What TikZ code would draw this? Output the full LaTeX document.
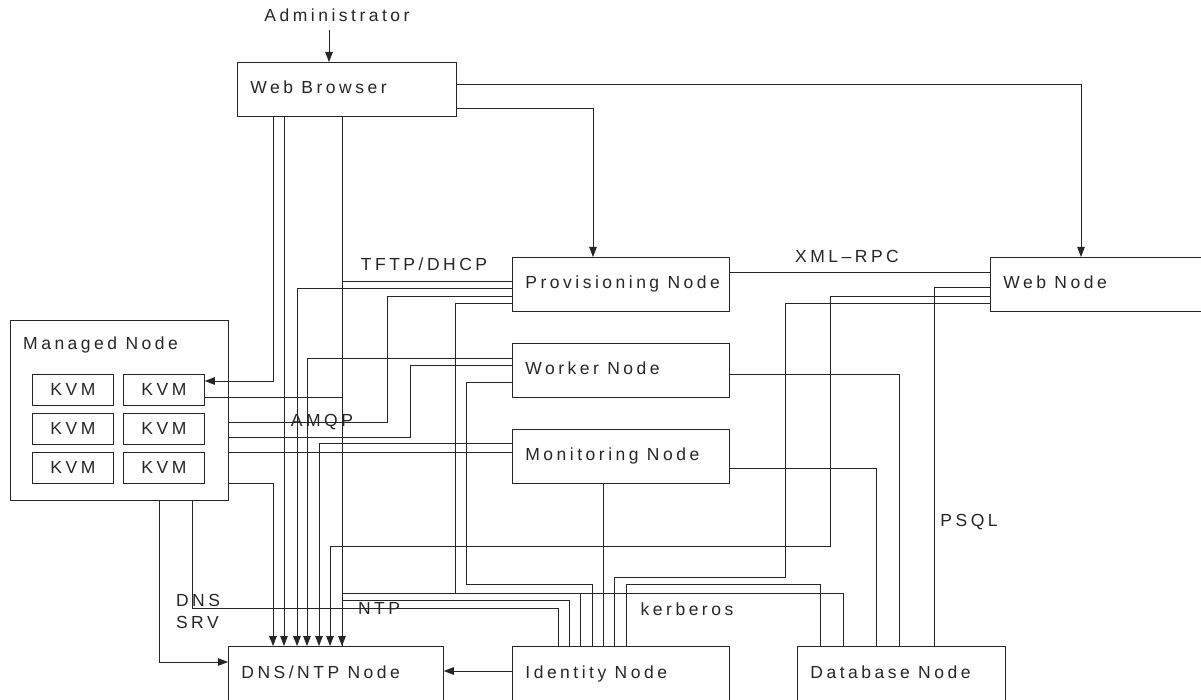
\documentclass[tikz,border=0pt]{standalone}
\usepackage{fontspec}
\newfontfamily\lblfont{Liberation Sans}[LetterSpace=20]
\usetikzlibrary{arrows.meta}
\newcommand\inbox[2]{\makebox[#1][l]{#2}}
\tikzset{
  base/.style={font=\lblfont\fontsize{17.5}{22}\selectfont, text=black!85},
  box/.style={base, draw=black!85, line width=0.8pt, anchor=north west,
              inner xsep=13pt, inner ysep=0pt, minimum height=54pt, text height=12pt, text depth=4pt},
  lowbox/.style={box, minimum height=60pt, text depth=7pt},
  kvmbox/.style={base, draw=black!85, line width=0.8pt, anchor=north west,
              minimum width=81pt, minimum height=31pt, inner sep=0pt},
  txt/.style={base, inner sep=0pt, text height=12pt, text depth=4pt},
  conn/.style={draw=black!85, line width=0.8pt},
  arr/.style={conn, -{Triangle[length=10pt,width=7.5pt]}},
}
\begin{document}
\begin{tikzpicture}[x=1pt,y=-1pt]
\useasboundingbox (0,0) rectangle (1201,700);
% boxes
\node[box] (wb) at (237,62) {\inbox{193pt}{Web Browser}};
\node[box] (prov) at (512,257) {\inbox{191pt}{Provisioning Node}};
\node[box] (worker) at (512,343) {\inbox{191pt}{Worker Node}};
\node[box] (mon) at (512,429) {\inbox{191pt}{Monitoring Node}};
\node[box] (web) at (990,257) {\inbox{204pt}{Web Node}};
\node[lowbox] (dns) at (228,646) {\inbox{189pt}{DNS/NTP Node}};
\node[lowbox] (idn) at (512,646) {\inbox{191pt}{Identity Node}};
\node[lowbox] (db) at (797,646) {\inbox{182pt}{Database Node}};
\node[draw=black!85, line width=0.8pt, anchor=north west, minimum width=218pt, minimum height=180pt, inner sep=0pt] (managed) at (10,320) {};
\node[txt, anchor=west] (mlabel) at (23,345) {Managed Node};
\node[kvmbox] (kvm11) at (32,374) {KVM};
\node[kvmbox] (kvm12) at (123,374) {KVM};
\node[kvmbox] (kvm21) at (32,413) {KVM};
\node[kvmbox] (kvm22) at (123,413) {KVM};
\node[kvmbox] (kvm31) at (32,452) {KVM};
\node[kvmbox] (kvm32) at (123,452) {KVM};
% labels
\node[txt] (admin) at (337,18) {Administrator};
\node[txt] (ltftp) at (424,267) {TFTP/DHCP};
\node[txt] (lxml) at (847,259) {XML–RPC};
\node[txt] (lamqp) at (322,422) {AMQP};
\node[txt] (lntp) at (379,610) {NTP};
\node[base, inner sep=0pt, align=left] (ldns) at (198,611) {DNS\\SRV};
\node[txt] (lkerb) at (687,611) {kerberos};
\node[txt] (lpsql) at (969,522) {PSQL};
% connectors
\draw[arr, shorten <=4pt] (admin.south -| 329,0) -- (wb.north -| 329,0);
\draw[arr] (wb.east |- 0,84) -| (web.north -| 1081,0);
\draw[arr] (wb.east |- 0,108) -| (prov.north -| 593,0);
\draw[arr] (wb.south -| 273,0) |- (kvm12.east |- 0,381);
\draw[arr] (wb.south -| 284,0) -- (dns.north -| 284,0);
\draw[arr] (wb.south -| 342,0) -- (dns.north -| 342,0);
\draw[conn] (prov.west |- 0,281) -| (342,397) -- (kvm12.east |- 0,397);
\draw[arr] (prov.west |- 0,288) -| (dns.north -| 297,0);
\draw[conn] (prov.west |- 0,296) -| (387,422) -- (managed.east |- 0,422);
\draw[conn] (prov.west |- 0,303) -| (455,593) -| (idn.north -| 580,0);
\draw[conn] (prov.east |- 0,272) -- (web.west |- 0,272);
\draw[arr] (worker.west |- 0,358) -| (dns.north -| 307,0);
\draw[conn] (worker.west |- 0,365) -| (410,437) -- (managed.east |- 0,437);
\draw[conn] (worker.west |- 0,382) -| (466,584) -| (idn.north -| 592,0);
\draw[conn] (worker.east |- 0,374) -| (db.north -| 899,0);
\draw[arr] (mon.west |- 0,443) -| (dns.north -| 319,0);
\draw[conn] (mon.west |- 0,452) -- (managed.east |- 0,452);
\draw[conn] (mon.south -| 603,0) -- (idn.north -| 603,0);
\draw[conn] (mon.east |- 0,468) -| (db.north -| 876,0);
\draw[arr] (managed.east |- 0,483) -| (dns.north -| 273,0);
\draw[arr] (managed.south -| 159,0) |- (dns.west |- 0,662);
\draw[conn] (managed.south -| 192,0) |- (558,608) -- (idn.north -| 558,0);
\draw[conn] (web.west |- 0,287) -| (db.north -| 934,0);
\draw[arr] (web.west |- 0,296) -| (830,546) -| (dns.north -| 330,0);
\draw[conn] (web.west |- 0,303) -| (785,577) -| (idn.north -| 614,0);
\draw[arr] (idn.west |- 0,671) -- (dns.east |- 0,671);
\draw[conn] (db.north -| 843,0) |- (342,593) -- (dns.north -| 342,0);
\draw[conn] (idn.north -| 569,0) |- (342,600) -- (dns.north -| 342,0);
\draw[conn] (idn.north -| 626,0) |- (820,584) -- (db.north -| 820,0);
\end{tikzpicture}
\end{document}
